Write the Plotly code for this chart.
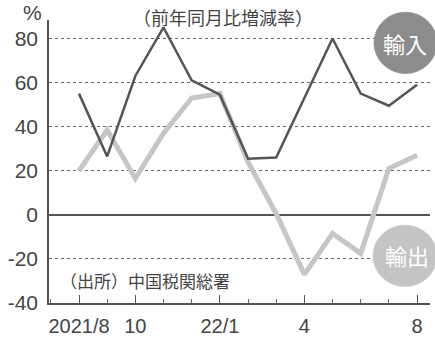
import plotly.graph_objects as go

months = ["2021/8", "2021/9", "2021/10", "2021/11", "2021/12", "2022/1", "2022/2",
          "2022/3", "2022/4", "2022/5", "2022/6", "2022/7", "2022/8"]
import_vals = [55, 26.5, 63, 85, 61, 54.5, 25.5, 26, 53, 80, 55, 49.5, 59]
export_vals = [20, 38.5, 16.5, 37, 53, 55, 24, 0.5, -27, -8.5, -17.5, 21, 27]
tick_idx = [0, 2, 5, 8, 12]
tick_text = ["2021/8", "10", "22/1", "4", "8"]
y_ticks = [-40, -20, 0, 20, 40, 60, 80]
y_tick_text = ["-40", "-20", "0", "20", "40", "60", "80"]

W, H = 435, 342
L, R, T, B = 49, 5, 20, 31
PW, PH = W - L - R, H - T - B

def px(x):
    return (x - L) / PW

def py(y):
    return (H - B - y) / PH

xs = list(range(len(months)))
NUM = "Liberation Sans, Arial, sans-serif"
CJK = "Noto Sans CJK JP"
TXT = "#444444"

fig = go.Figure()
fig.add_trace(go.Scatter(x=xs, y=export_vals, mode="lines", name="輸出",
                         line=dict(color="#c6c6c6", width=5), hoverinfo="skip"))
fig.add_trace(go.Scatter(x=xs, y=import_vals, mode="lines", name="輸入",
                         line=dict(color="#555555", width=2.5), hoverinfo="skip"))

fig.update_layout(
    width=W, height=H, margin=dict(l=L, r=R, t=T, b=B),
    paper_bgcolor="white", plot_bgcolor="white", showlegend=False,
    font=dict(family=NUM, color=TXT),
    xaxis=dict(range=[-1.065, 12.46], tickvals=tick_idx, ticktext=tick_text,
               showgrid=False, zeroline=False, showline=True, linecolor="#555",
               linewidth=1.5, ticks="inside", ticklen=8, tickcolor="#555",
               tickwidth=1.3, tickfont=dict(size=20, family=NUM, color=TXT),
               minor=dict(dtick=1, tick0=0, ticks="inside", ticklen=4,
                          tickcolor="#666", tickwidth=1, showgrid=False),
               ticklabelstandoff=4),
    yaxis=dict(range=[-40, 88.4], tickvals=y_ticks, ticktext=y_tick_text,
               showgrid=True, gridcolor="#666", griddash="dot", gridwidth=1.3,
               zeroline=True, zerolinecolor="#555", zerolinewidth=2,
               showline=True, linecolor="#555", linewidth=1.5,
               ticks="", tickfont=dict(size=21, family=NUM, color=TXT),
               ticklabelstandoff=5),
)

shapes = [
    dict(type="circle", xref="paper", yref="paper", layer="above",
         x0=px(374), x1=px(437), y0=py(75), y1=py(12),
         fillcolor="#8c8c8c", line=dict(color="#9a9a9a", width=1)),
    dict(type="circle", xref="paper", yref="paper", layer="above",
         x0=px(373), x1=px(437), y0=py(294), y1=py(231),
         fillcolor="#c4c4c4", line=dict(color="#cccccc", width=1)),
]
fig.update_layout(shapes=shapes)

ann = [
    dict(text="輸入", x=px(405), y=py(44), font=dict(family=CJK, size=22, color="white")),
    dict(text="輸出", x=px(407), y=py(262), font=dict(family=CJK, size=22, color="white")),
    dict(text="%", x=px(32), y=py(12), font=dict(family=NUM, size=21, color=TXT)),
    dict(text="（前年同月比増減率）", x=px(223), y=py(1), yanchor="top",
         font=dict(family=CJK, size=18, color=TXT)),
    dict(text="（出所）中国税関総署", x=px(58), y=py(288), xanchor="left",
         font=dict(family=CJK, size=17, color=TXT)),
]
for a in ann:
    a.setdefault("xanchor", "center")
    a.setdefault("yanchor", "middle")
    a.update(xref="paper", yref="paper", showarrow=False)
fig.update_layout(annotations=ann)

fig.write_html("out.html")
